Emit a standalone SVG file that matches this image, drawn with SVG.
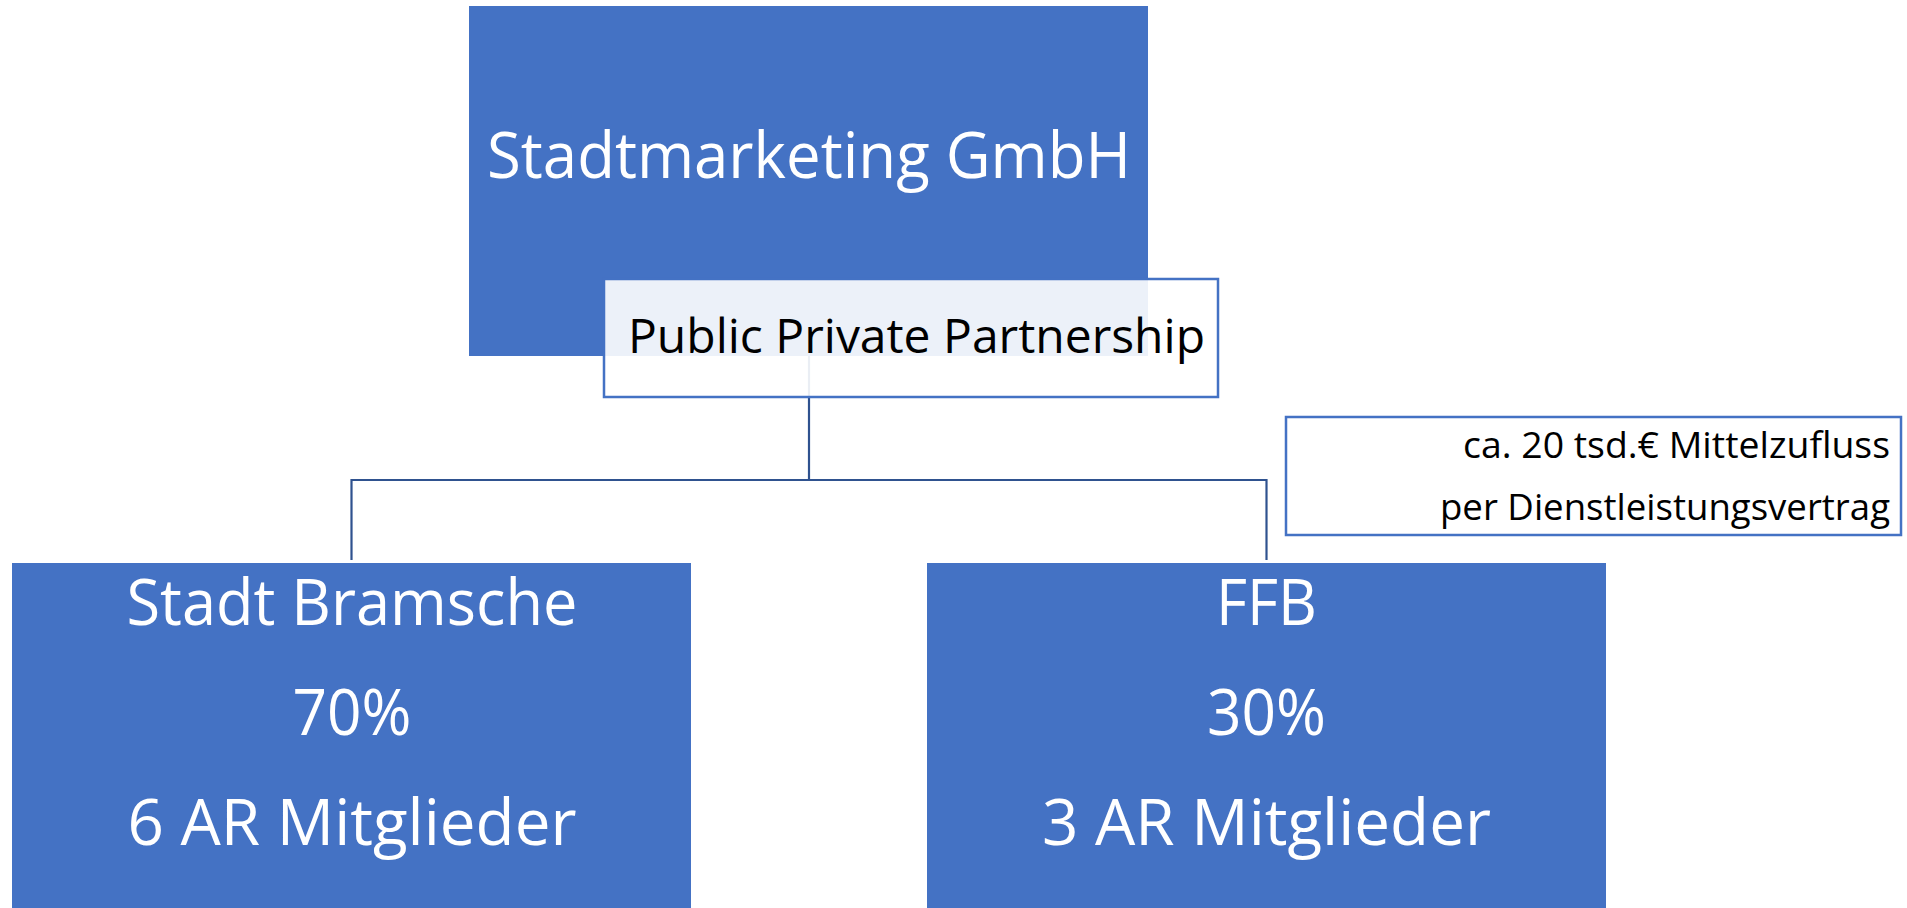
<svg xmlns="http://www.w3.org/2000/svg" width="1907" height="908" viewBox="0 0 1907 908">
  <style>
    .box { fill: #4472C4; }
    .frame { stroke: #4472C4; stroke-width: 2.5; }
    .conn { stroke: #2F528F; stroke-width: 2.2; fill: none; }
    .big { font-family: "Open Sans", "Liberation Sans", sans-serif; font-size: 64px; fill: #FFFFFF; text-anchor: middle; }
    .mid { font-family: "Open Sans", "Liberation Sans", sans-serif; font-size: 48px; fill: #000000; }
    .small { font-family: "Open Sans", "Liberation Sans", sans-serif; font-size: 37px; fill: #000000; text-anchor: end; }
  </style>
  <rect width="1907" height="908" fill="#FFFFFF"/>

  <g id="node-stadtmarketing">
    <rect class="box" x="469" y="6" width="679" height="350"/>
    <text class="big" x="809" y="178" textLength="644" lengthAdjust="spacingAndGlyphs">Stadtmarketing GmbH</text>
  </g>

  <g id="connectors">
    <line class="conn" x1="809" y1="356" x2="809" y2="480"/>
    <line class="conn" x1="351.5" y1="480" x2="1266.5" y2="480"/>
    <line class="conn" x1="351.5" y1="479" x2="351.5" y2="560"/>
    <line class="conn" x1="1266.5" y1="479" x2="1266.5" y2="560"/>
  </g>

  <g id="node-ppp">
    <rect class="frame" x="604" y="279" width="614" height="118" fill="#FFFFFF" fill-opacity="0.9"/>
    <text class="mid" x="628" y="353" textLength="577" lengthAdjust="spacingAndGlyphs">Public Private Partnership</text>
  </g>

  <g id="node-note">
    <rect class="frame" x="1286" y="417" width="615" height="118" fill="#FFFFFF"/>
    <text class="small" x="1890" y="458" textLength="427" lengthAdjust="spacingAndGlyphs">ca. 20 tsd.€ Mittelzufluss</text>
    <text class="small" x="1890" y="520" textLength="450" lengthAdjust="spacingAndGlyphs">per Dienstleistungsvertrag</text>
  </g>

  <g id="node-stadt-bramsche">
    <rect class="box" x="12" y="563" width="679" height="345"/>
    <text class="big" x="352" y="625" textLength="451" lengthAdjust="spacingAndGlyphs">Stadt Bramsche</text>
    <text class="big" x="352" y="735" textLength="119" lengthAdjust="spacingAndGlyphs">70%</text>
    <text class="big" x="352" y="845" textLength="449" lengthAdjust="spacingAndGlyphs">6 AR Mitglieder</text>
  </g>

  <g id="node-ffb">
    <rect class="box" x="927" y="563" width="679" height="345"/>
    <text class="big" x="1266.5" y="625" textLength="101" lengthAdjust="spacingAndGlyphs">FFB</text>
    <text class="big" x="1266.5" y="735" textLength="119" lengthAdjust="spacingAndGlyphs">30%</text>
    <text class="big" x="1266.5" y="845" textLength="449" lengthAdjust="spacingAndGlyphs">3 AR Mitglieder</text>
  </g>
</svg>
